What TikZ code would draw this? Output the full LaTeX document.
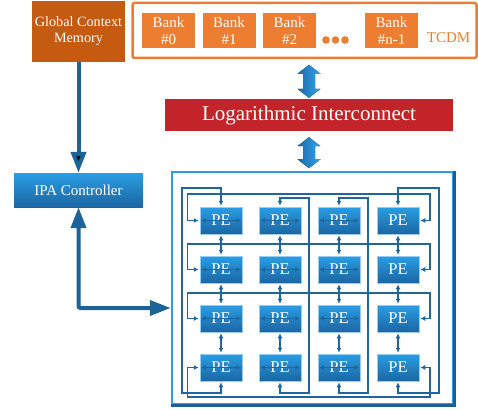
\documentclass[tikz,border=0pt]{standalone}
\usepackage{fontspec}
\setmainfont{Liberation Serif}
\usetikzlibrary{arrows.meta}
\definecolor{gcmorange}{HTML}{C55A11}
\definecolor{bankorange}{HTML}{ED7D31}
\definecolor{logred}{HTML}{C3242A}
\definecolor{pelight}{HTML}{2A9DE4}
\definecolor{pedark}{HTML}{1B66A2}
\definecolor{wireblue}{HTML}{1F669C}
\definecolor{gridlight}{HTML}{2F9BE5}
\definecolor{griddark}{HTML}{1B5F94}
\definecolor{busblue}{HTML}{1C6397}
\definecolor{arrowdark}{HTML}{1769AB}
\definecolor{arrowlight}{HTML}{38A4E8}

\begin{document}
\begin{tikzpicture}[x=1pt,y=-1pt,>={Latex[length=5pt,width=5pt]},node distance=60.5pt,
    every node/.style={font=\fontsize{15pt}{17pt}\selectfont,text=white,inner sep=0pt},
    bank/.style={fill=bankorange,minimum width=53pt,minimum height=35pt,align=center},
    pe/.style={top color=pelight,bottom color=pedark,draw=pelight!50!white,line width=0.5pt,
      minimum width=42pt,minimum height=27pt,font=\fontsize{16.5pt}{18pt}\selectfont},
    wire/.style={draw=wireblue,line width=1.3pt,<->,shorten >=1pt,shorten <=1pt},
    bus/.style={draw=busblue,line width=4pt,rounded corners=2pt,>={Triangle[width=15pt,length=21pt]}},
    blockarrow/.style={left color=arrowdark,right color=arrowlight}]
    \useasboundingbox (0,0) rectangle (478,409);

    % memories
    \node (gcm) [fill=gcmorange,minimum width=93pt,minimum height=61pt,align=center,
      font=\fontsize{14.2pt}{16pt}\selectfont] at (78.5,31.5) {Global Context\\Memory};
    \node (tcdm) [draw=bankorange,line width=2.5pt,rounded corners=2pt,
      minimum width=344pt,minimum height=55pt] at (304.5,30.5) {};
    \node (b0) [bank] at (168.5,30.5) {Bank\\\#0};
    \node (b1) [bank, right of=b0] {Bank\\\#1};
    \node (b2) [bank, right of=b1] {Bank\\\#2};
    \node (bn) [bank, right of=b2, node distance=102pt] {Bank\\\#n-1};
    \foreach \x in {326,335.5,345}
      \fill[bankorange] (\x,40) circle (3.8pt);
    \node (tcdmlabel) [text=bankorange] at (448.5,37.5) {TCDM};

    % interconnect
    \node (logint) [fill=logred,minimum width=288pt,minimum height=32pt,
      font=\fontsize{21pt}{24pt}\selectfont] at (309,115) {Logarithmic Interconnect};
    \fill[blockarrow] ([yshift=1pt]logint.north) -- ++(11.5,-9) -- ++(-5.5,0) -- ++(0,-15)
      -- ++(5.5,0) -- ++(-11.5,-9) -- ++(-11.5,9) -- ++(5.5,0) -- ++(0,15) -- ++(-5.5,0) -- cycle;
    \fill[blockarrow] ([yshift=-6pt]logint.south) -- ++(11.5,9) -- ++(-5.5,0) -- ++(0,13)
      -- ++(5.5,0) -- ++(-11.5,9) -- ++(-11.5,-9) -- ++(5.5,0) -- ++(0,-13) -- ++(-5.5,0) -- cycle;

    % controller
    \node (ipa) [top color=pelight,bottom color=pedark,minimum width=129pt,minimum height=34pt]
      at (78.5,190) {IPA Controller};
    \path[bus,->] (gcm) edge (ipa);

    % PE array
    \node (array) [draw=gridlight,line width=2.5pt,minimum width=281pt,minimum height=232pt]
      at (312.5,288) {};
    \draw[griddark,line width=2.5pt] (array.north east) -- (array.south east) -- (array.south west);
    \draw[bus,<->] (ipa.south) |- ([yshift=-20pt]array.west);

    \foreach \r in {0,...,3}
      \foreach \c in {0,...,3}
        \node (pe-\r-\c) [pe] at (221+59*\c,220.5+49*\r) {PE};

    \foreach \r in {0,...,3}
      \foreach \c [evaluate=\c as \n using int(\c+1)] in {0,1,2}
        \draw[wire] (pe-\r-\c.east) -- (pe-\r-\n.west);
    \foreach \r [evaluate=\r as \n using int(\r+1)] in {0,1,2}
      \foreach \c in {0,...,3}
        \draw[wire] (pe-\r-\c.south) -- (pe-\n-\c.north);

    % torus links
    \foreach \r/\y in {0/194,1/244,2/293,3/397}
      \draw[wire] (pe-\r-0.west) -- ++(-12,0) |- (430,\y) |- (pe-\r-3.east);
    \foreach \c/\x/\t in {0/182/188,1/309/198,2/368/198,3/439/188}
      \draw[wire] (pe-0-\c.north) |- (\x,\t) -- (\x,393) -| (pe-3-\c.south);
\end{tikzpicture}
\end{document}
